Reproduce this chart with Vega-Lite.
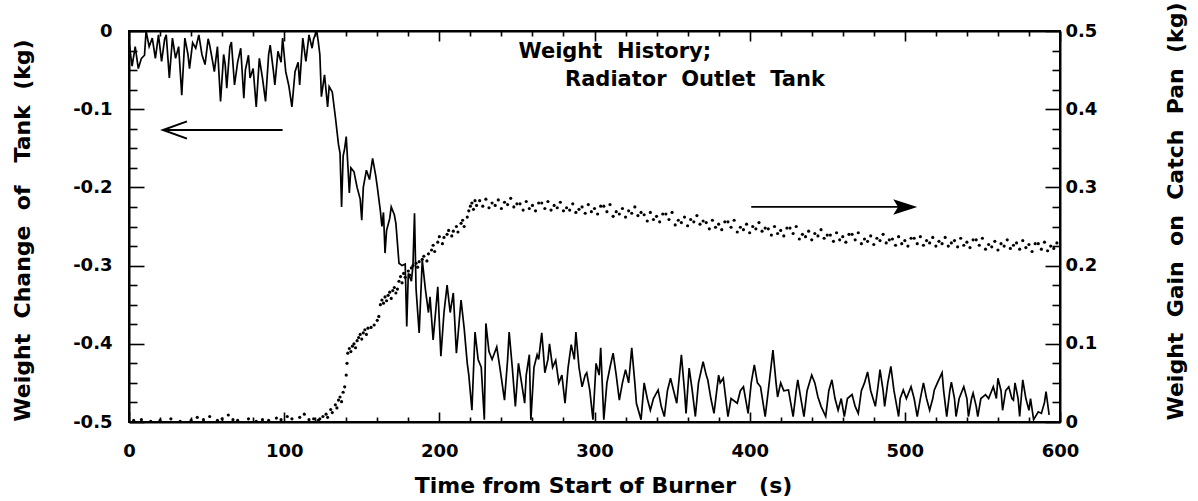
{
"$schema": "https://vega.github.io/schema/vega-lite/v6.json",
"width": 931, "height": 391,
"autosize": {"type": "none"},
"padding": {"left": 129, "top": 31, "right": 138, "bottom": 79},
"background": "white",
"config": {
 "view": {"stroke": "black", "strokeWidth": 2},
 "axis": {"domainColor": "black", "domainWidth": 2, "tickColor": "black", "tickWidth": 1.6, "labelFont": "DejaVu Sans", "labelFontWeight": "bold", "labelFontSize": 18, "labelColor": "black", "titleFont": "DejaVu Sans", "titleFontWeight": "bold", "titleFontSize": 22, "titleColor": "black", "grid": false, "labelFlush": false, "labelOverlap": false}
},
"datasets": {
 "tank": [
{"t":0,"v":-0.01},{"t":1,"v":-0.03},{"t":2,"v":-0.045},{"t":4,"v":-0.02},{"t":6,"v":-0.048},{"t":8,"v":-0.035},{"t":10,"v":-0.031},{"t":11,"v":0},{"t":13,"v":-0.02},{"t":15,"v":-0.009},{"t":17,"v":-0.035},{"t":19,"v":-0.005},{"t":21,"v":-0.039},{"t":23,"v":-0.01},{"t":24,"v":-0.005},{"t":26,"v":-0.06},{"t":28,"v":-0.009},{"t":30,"v":-0.035},{"t":32,"v":-0.02},{"t":34,"v":-0.082},{"t":36,"v":-0.009},{"t":38,"v":-0.03},{"t":39,"v":-0.048},{"t":41,"v":-0.015},{"t":43,"v":-0.022},{"t":45,"v":-0.005},{"t":47,"v":-0.03},{"t":49,"v":-0.043},{"t":51,"v":-0.01},{"t":52,"v":-0.018},{"t":54,"v":-0.04},{"t":55,"v":-0.052},{"t":57,"v":-0.02},{"t":59,"v":-0.09},{"t":61,"v":-0.03},{"t":62,"v":-0.043},{"t":63,"v":-0.073},{"t":65,"v":-0.02},{"t":66,"v":-0.014},{"t":68,"v":-0.069},{"t":70,"v":-0.04},{"t":72,"v":-0.022},{"t":74,"v":-0.086},{"t":75,"v":-0.05},{"t":77,"v":-0.031},{"t":78,"v":-0.06},{"t":80,"v":-0.048},{"t":82,"v":-0.097},{"t":84,"v":-0.035},{"t":86,"v":-0.06},{"t":88,"v":-0.09},{"t":90,"v":-0.03},{"t":91,"v":-0.018},{"t":93,"v":-0.05},{"t":94,"v":-0.069},{"t":96,"v":-0.026},{"t":98,"v":-0.04},{"t":99,"v":-0.009},{"t":101,"v":-0.052},{"t":103,"v":-0.07},{"t":105,"v":-0.097},{"t":107,"v":-0.052},{"t":109,"v":-0.04},{"t":110,"v":-0.069},{"t":112,"v":-0.009},{"t":114,"v":-0.039},{"t":116,"v":-0.005},{"t":118,"v":-0.022},{"t":119,"v":-0.01},{"t":121,"v":0},{"t":122,"v":-0.014},{"t":123,"v":-0.03},{"t":124,"v":-0.084},{"t":126,"v":-0.056},{"t":128,"v":-0.097},{"t":129,"v":-0.071},{"t":131,"v":-0.078},{"t":133,"v":-0.11},{"t":135,"v":-0.145},{"t":136,"v":-0.156},{"t":137,"v":-0.225},{"t":138,"v":-0.16},{"t":139,"v":-0.15},{"t":140,"v":-0.135},{"t":141,"v":-0.17},{"t":142,"v":-0.207},{"t":143,"v":-0.175},{"t":145,"v":-0.18},{"t":147,"v":-0.2},{"t":149,"v":-0.215},{"t":150,"v":-0.242},{"t":151,"v":-0.2},{"t":153,"v":-0.178},{"t":155,"v":-0.19},{"t":157,"v":-0.163},{"t":159,"v":-0.185},{"t":160,"v":-0.199},{"t":162,"v":-0.23},{"t":163,"v":-0.25},{"t":164,"v":-0.232},{"t":165,"v":-0.284},{"t":166,"v":-0.255},{"t":168,"v":-0.24},{"t":169,"v":-0.225},{"t":171,"v":-0.235},{"t":172,"v":-0.246},{"t":174,"v":-0.297},{"t":176,"v":-0.3},{"t":178,"v":-0.298},{"t":179,"v":-0.378},{"t":180,"v":-0.31},{"t":182,"v":-0.32},{"t":183,"v":-0.3},{"t":184,"v":-0.233},{"t":185,"v":-0.33},{"t":187,"v":-0.386},{"t":188,"v":-0.34},{"t":189,"v":-0.293},{"t":191,"v":-0.33},{"t":193,"v":-0.36},{"t":194,"v":-0.34},{"t":196,"v":-0.395},{"t":198,"v":-0.35},{"t":199,"v":-0.327},{"t":201,"v":-0.416},{"t":203,"v":-0.36},{"t":205,"v":-0.325},{"t":207,"v":-0.36},{"t":209,"v":-0.335},{"t":211,"v":-0.412},{"t":212,"v":-0.39},{"t":214,"v":-0.344},{"t":216,"v":-0.38},{"t":218,"v":-0.425},{"t":219,"v":-0.44},{"t":221,"v":-0.485},{"t":223,"v":-0.385},{"t":225,"v":-0.42},{"t":227,"v":-0.43},{"t":229,"v":-0.497},{"t":230,"v":-0.374},{"t":232,"v":-0.41},{"t":234,"v":-0.42},{"t":237,"v":-0.404},{"t":239,"v":-0.43},{"t":242,"v":-0.472},{"t":244,"v":-0.42},{"t":245,"v":-0.385},{"t":247,"v":-0.43},{"t":249,"v":-0.48},{"t":251,"v":-0.425},{"t":253,"v":-0.45},{"t":255,"v":-0.476},{"t":256,"v":-0.44},{"t":258,"v":-0.414},{"t":259,"v":-0.497},{"t":261,"v":-0.43},{"t":263,"v":-0.414},{"t":264,"v":-0.42},{"t":266,"v":-0.386},{"t":267,"v":-0.41},{"t":268,"v":-0.437},{"t":270,"v":-0.42},{"t":271,"v":-0.4},{"t":273,"v":-0.43},{"t":275,"v":-0.421},{"t":277,"v":-0.45},{"t":279,"v":-0.44},{"t":281,"v":-0.476},{"t":283,"v":-0.43},{"t":285,"v":-0.401},{"t":287,"v":-0.42},{"t":288,"v":-0.385},{"t":290,"v":-0.43},{"t":292,"v":-0.455},{"t":294,"v":-0.44},{"t":295,"v":-0.437},{"t":297,"v":-0.46},{"t":299,"v":-0.497},{"t":301,"v":-0.425},{"t":303,"v":-0.44},{"t":304,"v":-0.405},{"t":306,"v":-0.497},{"t":308,"v":-0.45},{"t":310,"v":-0.43},{"t":312,"v":-0.412},{"t":314,"v":-0.44},{"t":316,"v":-0.472},{"t":318,"v":-0.45},{"t":320,"v":-0.433},{"t":322,"v":-0.45},{"t":324,"v":-0.405},{"t":326,"v":-0.45},{"t":327,"v":-0.476},{"t":330,"v":-0.497},{"t":332,"v":-0.45},{"t":334,"v":-0.47},{"t":336,"v":-0.485},{"t":338,"v":-0.47},{"t":341,"v":-0.459},{"t":343,"v":-0.48},{"t":345,"v":-0.493},{"t":347,"v":-0.46},{"t":349,"v":-0.444},{"t":351,"v":-0.46},{"t":353,"v":-0.476},{"t":356,"v":-0.414},{"t":358,"v":-0.46},{"t":359,"v":-0.489},{"t":361,"v":-0.431},{"t":363,"v":-0.46},{"t":365,"v":-0.493},{"t":367,"v":-0.45},{"t":370,"v":-0.423},{"t":372,"v":-0.44},{"t":373,"v":-0.446},{"t":375,"v":-0.47},{"t":377,"v":-0.489},{"t":380,"v":-0.44},{"t":381,"v":-0.45},{"t":383,"v":-0.444},{"t":386,"v":-0.493},{"t":388,"v":-0.47},{"t":392,"v":-0.476},{"t":394,"v":-0.46},{"t":396,"v":-0.455},{"t":399,"v":-0.489},{"t":401,"v":-0.45},{"t":403,"v":-0.427},{"t":405,"v":-0.45},{"t":407,"v":-0.455},{"t":410,"v":-0.493},{"t":412,"v":-0.46},{"t":415,"v":-0.408},{"t":417,"v":-0.45},{"t":418,"v":-0.468},{"t":420,"v":-0.45},{"t":422,"v":-0.46},{"t":425,"v":-0.459},{"t":428,"v":-0.493},{"t":430,"v":-0.46},{"t":431,"v":-0.446},{"t":433,"v":-0.47},{"t":435,"v":-0.493},{"t":437,"v":-0.46},{"t":440,"v":-0.44},{"t":442,"v":-0.45},{"t":444,"v":-0.468},{"t":446,"v":-0.48},{"t":449,"v":-0.493},{"t":451,"v":-0.46},{"t":453,"v":-0.446},{"t":455,"v":-0.47},{"t":457,"v":-0.485},{"t":459,"v":-0.47},{"t":461,"v":-0.493},{"t":463,"v":-0.47},{"t":466,"v":-0.465},{"t":468,"v":-0.48},{"t":470,"v":-0.489},{"t":472,"v":-0.46},{"t":474,"v":-0.45},{"t":476,"v":-0.436},{"t":478,"v":-0.46},{"t":481,"v":-0.48},{"t":483,"v":-0.45},{"t":484,"v":-0.433},{"t":486,"v":-0.46},{"t":487,"v":-0.48},{"t":489,"v":-0.45},{"t":491,"v":-0.429},{"t":493,"v":-0.46},{"t":496,"v":-0.493},{"t":497,"v":-0.47},{"t":499,"v":-0.459},{"t":501,"v":-0.47},{"t":504,"v":-0.455},{"t":506,"v":-0.47},{"t":508,"v":-0.493},{"t":510,"v":-0.47},{"t":512,"v":-0.45},{"t":514,"v":-0.47},{"t":516,"v":-0.485},{"t":518,"v":-0.47},{"t":519,"v":-0.459},{"t":521,"v":-0.45},{"t":524,"v":-0.437},{"t":525,"v":-0.46},{"t":527,"v":-0.493},{"t":529,"v":-0.46},{"t":530,"v":-0.449},{"t":532,"v":-0.47},{"t":533,"v":-0.493},{"t":535,"v":-0.47},{"t":538,"v":-0.455},{"t":540,"v":-0.47},{"t":541,"v":-0.493},{"t":543,"v":-0.47},{"t":544,"v":-0.463},{"t":546,"v":-0.48},{"t":547,"v":-0.493},{"t":549,"v":-0.47},{"t":552,"v":-0.465},{"t":554,"v":-0.47},{"t":557,"v":-0.455},{"t":559,"v":-0.47},{"t":560,"v":-0.444},{"t":562,"v":-0.46},{"t":563,"v":-0.485},{"t":565,"v":-0.46},{"t":567,"v":-0.455},{"t":569,"v":-0.47},{"t":570,"v":-0.472},{"t":571,"v":-0.45},{"t":573,"v":-0.47},{"t":574,"v":-0.493},{"t":576,"v":-0.446},{"t":578,"v":-0.47},{"t":580,"v":-0.485},{"t":581,"v":-0.47},{"t":583,"v":-0.497},{"t":586,"v":-0.487},{"t":588,"v":-0.489},{"t":590,"v":-0.475},{"t":591,"v":-0.461},{"t":593,"v":-0.491}
 ],
 "pan": [
{"t":3,"w":0.002},{"t":8,"w":0.003},{"t":14,"w":0.001},{"t":20,"w":0.002},{"t":27,"w":0.004},{"t":33,"w":0.001},{"t":40,"w":0.002},{"t":44,"w":0.006},{"t":48,"w":0.003},{"t":52,"w":0.007},{"t":57,"w":0.002},{"t":60,"w":0.004},{"t":64,"w":0.009},{"t":67,"w":0.003},{"t":70,"w":0.002},{"t":77,"w":0.004},{"t":82,"w":0.001},{"t":86,"w":0.003},{"t":90,"w":0.002},{"t":95,"w":0.005},{"t":98,"w":0.003},{"t":102,"w":0.007},{"t":105,"w":0.004},{"t":110,"w":0.006},{"t":113,"w":0.01},{"t":116,"w":0.003},{"t":119,"w":0.004},{"t":122,"w":0.002},
{"t":123,"w":0.004},{"t":125,"w":0.007},{"t":127,"w":0.01},{"t":128,"w":0.006},{"t":130,"w":0.016},{"t":131,"w":0.012},{"t":133,"w":0.022},{"t":134,"w":0.018},{"t":135,"w":0.028},{"t":136,"w":0.032},{"t":137,"w":0.026},{"t":138,"w":0.038},{"t":139,"w":0.045},{"t":140,"w":0.06},{"t":140.5,"w":0.075},{"t":141,"w":0.088},{"t":142,"w":0.094},{"t":143,"w":0.09},{"t":144,"w":0.097},{"t":145,"w":0.1},{"t":146,"w":0.095},{"t":147,"w":0.104},{"t":148,"w":0.108},{"t":149,"w":0.112},{"t":150,"w":0.106},{"t":151,"w":0.114},{"t":152,"w":0.118},{"t":153,"w":0.112},{"t":154,"w":0.12},{"t":156,"w":0.121},{"t":158,"w":0.124},{"t":160,"w":0.13},{"t":161,"w":0.135},{"t":162,"w":0.15},{"t":163,"w":0.156},{"t":164,"w":0.152},{"t":165,"w":0.16},{"t":166,"w":0.155},{"t":167,"w":0.162},{"t":168,"w":0.166},{"t":169,"w":0.158},{"t":170,"w":0.168},{"t":171,"w":0.172},{"t":172,"w":0.165},{"t":173,"w":0.17},{"t":174,"w":0.18},{"t":175,"w":0.186},{"t":176,"w":0.178},{"t":177,"w":0.19},{"t":178,"w":0.185},{"t":180,"w":0.193},{"t":181,"w":0.188},{"t":182,"w":0.197},{"t":183,"w":0.2},{"t":185,"w":0.203},{"t":186,"w":0.198},{"t":187,"w":0.205},{"t":189,"w":0.208},{"t":190,"w":0.212},{"t":192,"w":0.206},{"t":193,"w":0.215},{"t":195,"w":0.22},{"t":196,"w":0.226},{"t":197,"w":0.218},{"t":199,"w":0.23},{"t":200,"w":0.237},{"t":202,"w":0.228},{"t":203,"w":0.236},{"t":205,"w":0.24},{"t":206,"w":0.245},{"t":208,"w":0.238},{"t":209,"w":0.244},{"t":211,"w":0.25},{"t":212,"w":0.243},{"t":214,"w":0.254},{"t":215,"w":0.258},{"t":216,"w":0.25},{"t":218,"w":0.262},{"t":219,"w":0.27},{"t":220,"w":0.276},{"t":221,"w":0.28},{"t":222,"w":0.272},{"t":223,"w":0.283},{"t":224,"w":0.277},
{"t":226,"w":0.283},{"t":228,"w":0.276},{"t":230,"w":0.285},{"t":232,"w":0.274},{"t":234,"w":0.28},{"t":236,"w":0.277},{"t":238,"w":0.284},{"t":240,"w":0.273},{"t":242,"w":0.281},{"t":244,"w":0.278},{"t":246,"w":0.286},{"t":248,"w":0.275},{"t":250,"w":0.279},{"t":252,"w":0.279},{"t":254,"w":0.271},{"t":256,"w":0.282},{"t":258,"w":0.273},{"t":260,"w":0.277},{"t":262,"w":0.27},{"t":264,"w":0.28},{"t":266,"w":0.28},{"t":268,"w":0.273},{"t":270,"w":0.282},{"t":272,"w":0.271},{"t":274,"w":0.277},{"t":276,"w":0.274},{"t":278,"w":0.281},{"t":280,"w":0.27},{"t":282,"w":0.274},{"t":284,"w":0.271},{"t":286,"w":0.279},{"t":288,"w":0.268},{"t":290,"w":0.272},{"t":292,"w":0.275},{"t":294,"w":0.267},{"t":296,"w":0.278},{"t":298,"w":0.269},{"t":300,"w":0.273},{"t":302,"w":0.266},{"t":304,"w":0.276},{"t":306,"w":0.276},{"t":308,"w":0.269},{"t":310,"w":0.278},{"t":312,"w":0.263},{"t":314,"w":0.269},{"t":316,"w":0.266},{"t":318,"w":0.273},{"t":320,"w":0.262},{"t":322,"w":0.27},{"t":324,"w":0.267},{"t":326,"w":0.275},{"t":328,"w":0.264},{"t":330,"w":0.268},{"t":332,"w":0.265},{"t":334,"w":0.257},{"t":336,"w":0.268},{"t":338,"w":0.259},{"t":340,"w":0.263},{"t":342,"w":0.256},{"t":344,"w":0.266},{"t":346,"w":0.266},{"t":348,"w":0.259},{"t":350,"w":0.268},{"t":352,"w":0.252},{"t":354,"w":0.258},{"t":356,"w":0.255},{"t":358,"w":0.262},{"t":360,"w":0.251},{"t":362,"w":0.259},{"t":364,"w":0.256},{"t":366,"w":0.264},{"t":368,"w":0.253},{"t":370,"w":0.257},{"t":372,"w":0.255},{"t":374,"w":0.247},{"t":376,"w":0.258},{"t":378,"w":0.249},{"t":380,"w":0.253},{"t":382,"w":0.246},{"t":384,"w":0.256},{"t":386,"w":0.256},{"t":388,"w":0.249},{"t":390,"w":0.258},{"t":392,"w":0.243},{"t":394,"w":0.249},{"t":396,"w":0.246},{"t":398,"w":0.253},{"t":400,"w":0.242},{"t":402,"w":0.25},{"t":404,"w":0.247},{"t":406,"w":0.255},{"t":408,"w":0.244},{"t":410,"w":0.248},{"t":412,"w":0.247},{"t":414,"w":0.239},{"t":416,"w":0.25},{"t":418,"w":0.241},{"t":420,"w":0.245},{"t":422,"w":0.238},{"t":424,"w":0.248},{"t":426,"w":0.248},{"t":428,"w":0.241},{"t":430,"w":0.25},{"t":432,"w":0.234},{"t":434,"w":0.24},{"t":436,"w":0.237},{"t":438,"w":0.244},{"t":440,"w":0.233},{"t":442,"w":0.241},{"t":444,"w":0.238},{"t":446,"w":0.246},{"t":448,"w":0.235},{"t":450,"w":0.239},{"t":452,"w":0.239},{"t":454,"w":0.231},{"t":456,"w":0.242},{"t":458,"w":0.233},{"t":460,"w":0.237},{"t":462,"w":0.23},{"t":464,"w":0.24},{"t":466,"w":0.24},{"t":468,"w":0.233},{"t":470,"w":0.242},{"t":472,"w":0.228},{"t":474,"w":0.234},{"t":476,"w":0.231},{"t":478,"w":0.238},{"t":480,"w":0.227},{"t":482,"w":0.235},{"t":484,"w":0.232},{"t":486,"w":0.24},{"t":488,"w":0.229},{"t":490,"w":0.233},{"t":492,"w":0.234},{"t":494,"w":0.226},{"t":496,"w":0.237},{"t":498,"w":0.228},{"t":500,"w":0.232},{"t":502,"w":0.225},{"t":504,"w":0.235},{"t":506,"w":0.235},{"t":508,"w":0.228},{"t":510,"w":0.237},{"t":512,"w":0.226},{"t":514,"w":0.232},{"t":516,"w":0.229},{"t":518,"w":0.236},{"t":520,"w":0.225},{"t":522,"w":0.231},{"t":524,"w":0.228},{"t":526,"w":0.236},{"t":528,"w":0.225},{"t":530,"w":0.229},{"t":532,"w":0.232},{"t":534,"w":0.224},{"t":536,"w":0.235},{"t":538,"w":0.226},{"t":540,"w":0.23},{"t":542,"w":0.223},{"t":544,"w":0.233},{"t":546,"w":0.233},{"t":548,"w":0.226},{"t":550,"w":0.235},{"t":552,"w":0.221},{"t":554,"w":0.227},{"t":556,"w":0.224},{"t":558,"w":0.231},{"t":560,"w":0.22},{"t":562,"w":0.228},{"t":564,"w":0.225},{"t":566,"w":0.233},{"t":568,"w":0.222},{"t":570,"w":0.226},{"t":572,"w":0.229},{"t":574,"w":0.221},{"t":576,"w":0.232},{"t":578,"w":0.223},{"t":580,"w":0.227},{"t":582,"w":0.218},{"t":584,"w":0.228},{"t":586,"w":0.228},{"t":588,"w":0.221},{"t":590,"w":0.23},{"t":592,"w":0.219},{"t":594,"w":0.225},{"t":596,"w":0.222},{"t":598,"w":0.229}
 ],
 "notes": [{"t":251,"v":-0.027,"label":"Weight\u00a0\u00a0History;"},{"t":281,"v":-0.063,"label":"Radiator\u00a0\u00a0Outlet\u00a0\u00a0Tank"}],
 "shafts": [{"t1":23,"t2":99,"v":-0.1266},{"t1":401,"t2":505,"v":-0.225}],
 "headOpen": [{"t":21.9,"v":-0.1266}],
 "headSolid": [{"t":508,"v":-0.225}]
},
"layer": [
 {
  "data": {"name": "tank"},
  "mark": {"type": "line", "color": "black", "strokeWidth": 1.7, "clip": true},
  "encoding": {
   "x": {"field": "t", "type": "quantitative", "scale": {"domain": [0, 600], "nice": false},
    "axis": {"values": [0,20,40,60,80,100,120,140,160,180,200,220,240,260,280,300,320,340,360,380,400,420,440,460,480,500,520,540,560,580,600],
     "tickSize": {"condition": {"test": "datum.value % 100 === 0", "value": -10}, "value": -5}, "labelPadding": 30,
     "labelExpr": "datum.value % 100 === 0 ? datum.label : ''",
     "title": "Time from Start of Burner\u00a0\u00a0\u00a0(s)", "titleX": 474, "titleY": 63, "titleBaseline": "middle", "titleAlign": "center"}},
   "y": {"field": "v", "type": "quantitative", "scale": {"domain": [-0.5, 0], "nice": false, "zero": false},
    "axis": {"values": [-0.5,-0.475,-0.45,-0.425,-0.4,-0.375,-0.35,-0.325,-0.3,-0.275,-0.25,-0.225,-0.2,-0.175,-0.15,-0.125,-0.1,-0.075,-0.05,-0.025,0],
     "tickSize": {"condition": {"test": "abs(datum.value*10 - round(datum.value*10)) < 0.000001", "value": -15}, "value": -8}, "labelPadding": 32,
     "labelExpr": "abs(datum.value*10 - round(datum.value*10)) < 0.000001 ? (datum.value === 0 ? '0' : '-0.' + round(-datum.value*10)) : ''",
     "title": "Weight\u00a0\u00a0Change\u00a0\u00a0of\u00a0\u00a0\u00a0Tank\u00a0\u00a0(kg)", "titleX": -107, "titleY": 199, "titleBaseline": "middle", "titleAlign": "center", "titleAngle": -90}}
  }
 },
 {
  "data": {"name": "pan"},
  "mark": {"type": "circle", "color": "black", "size": 10, "opacity": 1, "clip": true},
  "encoding": {
   "x": {"field": "t", "type": "quantitative", "scale": {"domain": [0, 600], "nice": false},
    "axis": {"orient": "top", "values": [0,20,40,60,80,100,120,140,160,180,200,220,240,260,280,300,320,340,360,380,400,420,440,460,480,500,520,540,560,580,600],
     "tickSize": {"condition": {"test": "datum.value % 100 === 0", "value": -10}, "value": -5}, "labels": false, "title": null}},
   "y": {"field": "w", "type": "quantitative", "scale": {"domain": [0, 0.5], "nice": false},
    "axis": {"orient": "right", "values": [0,0.025,0.05,0.075,0.1,0.125,0.15,0.175,0.2,0.225,0.25,0.275,0.3,0.325,0.35,0.375,0.4,0.425,0.45,0.475,0.5],
     "tickSize": {"condition": {"test": "abs(datum.value*10 - round(datum.value*10)) < 0.000001", "value": -15}, "value": -8}, "labelPadding": 20,
     "labelExpr": "abs(datum.value*10 - round(datum.value*10)) < 0.000001 ? (datum.value === 0 ? '0' : '0.' + round(datum.value*10)) : ''",
     "title": "Weight\u00a0\u00a0Gain\u00a0\u00a0on\u00a0\u00a0Catch\u00a0\u00a0Pan\u00a0\u00a0(kg)", "titleX": 115, "titleY": 180, "titleBaseline": "middle", "titleAlign": "center", "titleAngle": -90}}
  }
 },
 {
  "data": {"name": "notes"},
  "mark": {"type": "text", "align": "left", "baseline": "middle", "font": "DejaVu Sans", "fontWeight": "bold", "fontSize": 21, "color": "black"},
  "encoding": {
   "x": {"field": "t", "type": "quantitative", "scale": {"domain": [0, 600], "nice": false}, "axis": null},
   "y": {"field": "v", "type": "quantitative", "scale": {"domain": [-0.5, 0], "nice": false, "zero": false}, "axis": null},
   "text": {"field": "label"}
  }
 },
 {
  "data": {"name": "shafts"},
  "mark": {"type": "rule", "color": "black", "strokeWidth": 1.8},
  "encoding": {
   "x": {"field": "t1", "type": "quantitative", "scale": {"domain": [0, 600], "nice": false}, "axis": null},
   "x2": {"field": "t2"},
   "y": {"field": "v", "type": "quantitative", "scale": {"domain": [-0.5, 0], "nice": false, "zero": false}, "axis": null}
  }
 },
 {
  "data": {"name": "headOpen"},
  "mark": {"type": "point", "shape": "M1,-0.36L0,0L1,0.36", "filled": false, "stroke": "black", "strokeWidth": 2, "size": 2304, "opacity": 1},
  "encoding": {
   "x": {"field": "t", "type": "quantitative", "scale": {"domain": [0, 600], "nice": false}, "axis": null},
   "y": {"field": "v", "type": "quantitative", "scale": {"domain": [-0.5, 0], "nice": false, "zero": false}, "axis": null}
  }
 },
 {
  "data": {"name": "headSolid"},
  "mark": {"type": "point", "shape": "M0,0L-1,-0.32L-0.8,0L-1,0.32Z", "filled": true, "color": "black", "size": 2304, "opacity": 1},
  "encoding": {
   "x": {"field": "t", "type": "quantitative", "scale": {"domain": [0, 600], "nice": false}, "axis": null},
   "y": {"field": "v", "type": "quantitative", "scale": {"domain": [-0.5, 0], "nice": false, "zero": false}, "axis": null}
  }
 }
],
"resolve": {"scale": {"x": "independent", "y": "independent"}}
}
